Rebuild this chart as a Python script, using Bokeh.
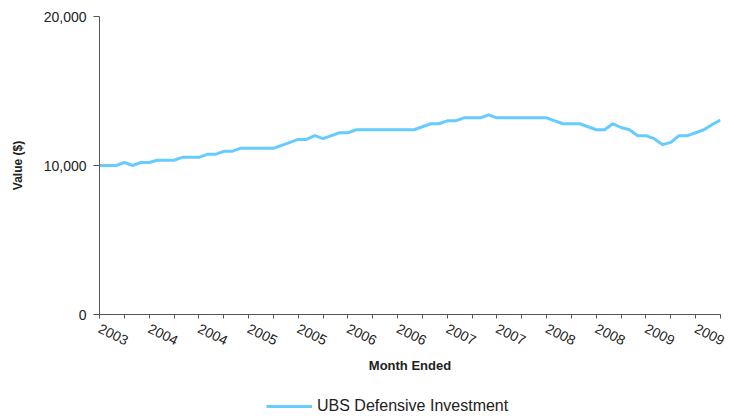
from bokeh.plotting import figure
from bokeh.layouts import column
from bokeh.models import Range1d, FixedTicker, Legend, LegendItem
from bokeh.embed import file_html
from bokeh.resources import INLINE

# ---- data (monthly values) ----
values = [
    10000, 10000, 10000, 10200, 10000, 10200, 10200, 10350, 10350, 10350,
    10550, 10550, 10550, 10750, 10750, 10950, 10950, 11150, 11150, 11150,
    11150, 11150, 11350, 11550, 11750, 11750, 12000, 11800, 12000, 12200,
    12200, 12400, 12400, 12400, 12400, 12400, 12400, 12400, 12400, 12600,
    12800, 12800, 13000, 13000, 13200, 13200, 13200, 13400, 13200, 13200,
    13200, 13200, 13200, 13200, 13200, 13000, 12800, 12800, 12800, 12600,
    12400, 12400, 12800, 12550, 12400, 12000, 12000, 11800, 11400, 11550,
    12000, 12000, 12200, 12400, 12750, 13050,
]
months = list(range(len(values)))
x_ticks = list(range(0, 76, 3))
label_positions = list(range(0, 73, 6))
tick_labels = ["2003", "2004", "2004", "2005", "2005", "2006", "2006",
               "2007", "2007", "2008", "2008", "2009", "2009"]
y_ticks = [0, 10000, 20000]
y_tick_labels = ["0", "10,000", "20,000"]
series_name = "UBS Defensive Investment"
x_title = "Month Ended"
y_title = "Value ($)"

FONT = "Liberation Sans"
TXT = "#222222"
AX = "#555555"
LINE = "#66CCFF"

p = figure(width=735, height=390,
           x_range=Range1d(0, len(values) - 1), y_range=Range1d(0, 20000),
           output_backend="svg", toolbar_location=None,
           min_border_left=99, min_border_right=15,
           min_border_top=16, min_border_bottom=76)
p.outline_line_color = None
p.xgrid.visible = False
p.ygrid.visible = False

r = p.line(months, values, line_color=LINE, line_width=3, line_join="round")

# x axis
xa = p.xaxis[0]
xa.ticker = FixedTicker(ticks=x_ticks)
overrides = {}
for t in x_ticks:
    overrides[t] = tick_labels[label_positions.index(t)] if t in label_positions else ""
xa.major_label_overrides = overrides
xa.major_label_orientation = -0.45
xa.major_tick_in = 0
xa.major_tick_out = 4
xa.minor_tick_line_color = None
xa.axis_line_color = AX
xa.major_tick_line_color = AX
xa.major_label_text_font = FONT
xa.major_label_text_font_size = "14px"
xa.major_label_text_color = TXT
xa.major_label_standoff = 9
xa.axis_label = x_title
xa.axis_label_text_font = FONT
xa.axis_label_text_font_size = "13px"
xa.axis_label_text_font_style = "bold"
xa.axis_label_text_color = TXT
xa.axis_label_standoff = 5

# y axis
ya = p.yaxis[0]
ya.ticker = FixedTicker(ticks=y_ticks)
ya.major_label_overrides = {t: l for t, l in zip(y_ticks, y_tick_labels)}
ya.major_tick_in = 0
ya.major_tick_out = 6
ya.minor_tick_line_color = None
ya.axis_line_color = AX
ya.major_tick_line_color = AX
ya.major_label_text_font = FONT
ya.major_label_text_font_size = "14px"
ya.major_label_text_color = TXT
ya.major_label_standoff = 7
ya.axis_label = y_title
ya.axis_label_text_font = FONT
ya.axis_label_text_font_size = "12px"
ya.axis_label_text_font_style = "bold"
ya.axis_label_text_color = TXT
ya.axis_label_standoff = 16

# legend strip below the chart
p2 = figure(width=735, height=27,
            x_range=Range1d(0, len(values) - 1), y_range=Range1d(0, 1),
            output_backend="svg", toolbar_location=None,
            x_axis_location=None, y_axis_location=None,
            min_border_left=0, min_border_right=0,
            min_border_top=0, min_border_bottom=0)
p2.outline_line_color = None
p2.xgrid.visible = False
p2.ygrid.visible = False
r2 = p2.line(months, values, line_color=LINE, line_width=3)  # out of view; feeds the legend

legend = Legend(items=[LegendItem(label=series_name, renderers=[r2])],
                location=(167, 2), orientation="horizontal",
                padding=0, margin=0, spacing=0,
                glyph_width=46, glyph_height=16, label_height=16,
                label_standoff=5,
                label_text_font=FONT, label_text_font_size="16px",
                label_text_color=TXT,
                border_line_color=None, background_fill_alpha=0)
p2.add_layout(legend)

layout = column(p, p2, spacing=0)
open("out.html", "w").write(file_html(layout, INLINE))
